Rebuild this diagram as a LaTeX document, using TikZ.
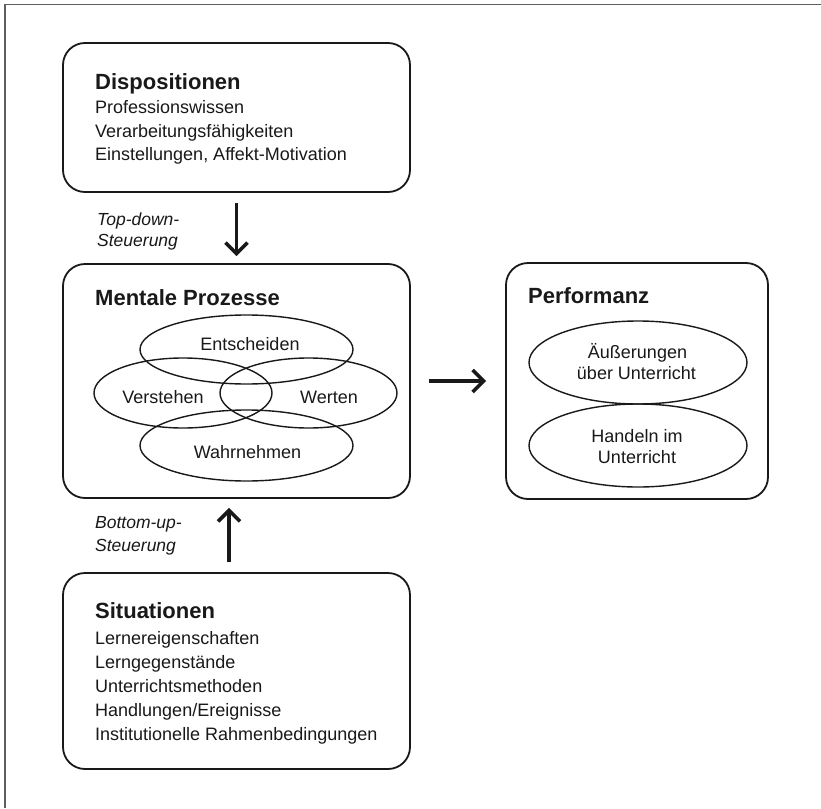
\documentclass[tikz,border=0pt]{standalone}
\usepackage{fontspec}
\setmainfont{Liberation Sans}
\usetikzlibrary{arrows.meta,shapes.geometric}
\definecolor{ink}{RGB}{25,25,25}
\definecolor{framegray}{RGB}{95,95,95}
\tikzset{
  box/.style={draw=ink, line width=1.8pt, rounded corners=22pt, rectangle, inner sep=0pt},
  ell/.style={draw=ink, line width=1.4pt, ellipse, inner sep=0pt},
  ttl/.style={anchor=base west, inner sep=0pt, text=ink, font=\fontsize{22}{26}\selectfont\bfseries},
  itm/.style={anchor=base west, inner sep=0pt, text=ink, font=\fontsize{18}{22}\selectfont},
  etx/.style={anchor=base, inner sep=0pt, text=ink, font=\fontsize{18}{22}\selectfont},
  lbl/.style={anchor=base west, inner sep=0pt, text=ink, font=\fontsize{17.5}{21}\selectfont\itshape},
  arr/.style={draw=ink, line width=3.6pt, -{Straight Barb[length=11pt,width=22pt,line width=3.6pt]}}
}
\begin{document}
\begin{tikzpicture}[x=1pt,y=-1pt]
\useasboundingbox (0,0) rectangle (821,808);
\fill[white] (0,0) rectangle (821,808);
\draw[framegray, line width=1.6pt] (5,808) -- (5,4.5) -- (821,4.5);

% boxes
\node[box, minimum width=347pt, minimum height=149pt] (disp) at (236.5,117.5) {};
\node[box, minimum width=347pt, minimum height=234pt] (ment) at (236.5,381) {};
\node[box, minimum width=262pt, minimum height=236pt] (perf) at (637,381) {};
\node[box, minimum width=347pt, minimum height=196pt] (situ) at (236.5,671) {};

% Dispositionen
\node[ttl] (dt) at (95,89) {Dispositionen};
\node[itm] (d1) at (95,113.5) {Professionswissen};
\node[itm] (d2) at (95,137) {Verarbeitungsfähigkeiten};
\node[itm] (d3) at (95,160.5) {Einstellungen, Affekt-Motivation};

% Top-down label
\node[lbl] (td1) at (97,225.5) {Top-down-};
\node[lbl] (td2) at (97,246) {Steuerung};

% Mentale Prozesse
\node[ttl] (mt) at (95,305) {Mentale Prozesse};
\node[ell, minimum width=213pt, minimum height=69pt] (e1) at (246.5,349.5) {};
\node[ell, minimum width=178pt, minimum height=70pt] (e2) at (183,393) {};
\node[ell, minimum width=177pt, minimum height=70pt] (e3) at (308.5,393) {};
\node[ell, minimum width=213pt, minimum height=71pt] (e4) at (246.5,445.5) {};
\node[etx] (t1) at (250,350) {Entscheiden};
\node[etx] (t2) at (163,403) {Verstehen};
\node[etx] (t3) at (329,403) {Werten};
\node[etx] (t4) at (247.5,458) {Wahrnehmen};

% Performanz
\node[ttl] (pt) at (528,303) {Performanz};
\node[ell, minimum width=218pt, minimum height=83pt] (p1) at (638,362.5) {};
\node[ell, minimum width=218pt, minimum height=83pt] (p2) at (638,445.5) {};
\node[etx] (pa) at (637.5,358) {Äußerungen};
\node[etx] (pb) at (636.5,379) {über Unterricht};
\node[etx] (pc) at (637,442.5) {Handeln im};
\node[etx] (pd) at (637,463) {Unterricht};

% Bottom-up label
\node[lbl] (bu1) at (95,528) {Bottom-up-};
\node[lbl] (bu2) at (95,551) {Steuerung};

% Situationen
\node[ttl] (st) at (95,618) {Situationen};
\node[itm] (s1) at (95,644.5) {Lernereigenschaften};
\node[itm] (s2) at (95,668.5) {Lerngegenstände};
\node[itm] (s3) at (95,692.5) {Unterrichtsmethoden};
\node[itm] (s4) at (95,716.5) {Handlungen/Ereignisse};
\node[itm] (s5) at (95,740.5) {Institutionelle Rahmenbedingungen};

% arrows
\draw[arr, shorten <=10pt, shorten >=7pt] (disp) -- (ment);
\draw[arr, shorten <=18pt, shorten >=19pt] (ment) -- (perf);
\draw[arr, shorten <=10pt, shorten >=9pt] ([xshift=-7.5pt]situ.north) -- ([xshift=-7.5pt]ment.south);
\end{tikzpicture}
\end{document}
